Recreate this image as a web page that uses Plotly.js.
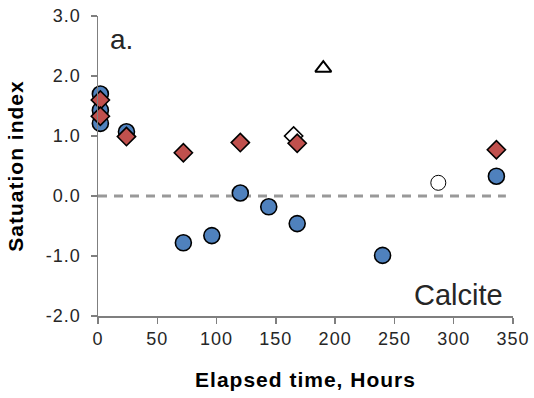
<!DOCTYPE html>
<html>
<head>
<meta charset="utf-8">
<script src="https://cdn.plot.ly/plotly-3.0.1.min.js"></script>
<style>
html,body{margin:0;padding:0;background:#fff;}
#chart{width:534px;height:398px;}
.xtitle,.ytitle{letter-spacing:1px;}
.xtick text,.ytick text{letter-spacing:1px;}
</style>
</head>
<body>
<div id="chart"></div>
<script>
// Blue filled circles
const circleX = [2, 2, -1.5, 2, 24, 72, 96, 120, 144, 168, 240, 336];
const circleY = [1.70, 1.43, 1.36, 1.21, 1.07, -0.78, -0.66, 0.05, -0.18, -0.46, -0.99, 0.33];
// Red filled diamonds
const diamondX = [2, 2, 24, 72, 120, 168, 336];
const diamondY = [1.60, 1.33, 0.99, 0.72, 0.89, 0.88, 0.77];
// Open markers
const openDiamondX = [165];
const openDiamondY = [1.00];
const openCircleX = [287];
const openCircleY = [0.22];
const openTriangleX = [190];
const openTriangleY = [2.13];
// Axis ticks
const xTicks = [0, 50, 100, 150, 200, 250, 300, 350];
const yTicks = [-2, -1, 0, 1, 2, 3];
const yTickLabels = ['-2.0', '-1.0', '0.0', '1.0', '2.0', '3.0'];

const font = 'Liberation Sans, Arial, sans-serif';
const outline = {color: '#000', width: 1.6};

const traces = [
  {x: openDiamondX, y: openDiamondY, mode: 'markers', type: 'scatter', cliponaxis: false,
   marker: {symbol: 'diamond', size: 14, color: '#fff', line: outline}},
  {x: openCircleX, y: openCircleY, mode: 'markers', type: 'scatter', cliponaxis: false,
   marker: {symbol: 'circle', size: 15, color: '#fff', line: {color: '#000', width: 1}}},
  {x: openTriangleX, y: openTriangleY, mode: 'markers', type: 'scatter', cliponaxis: false,
   marker: {symbol: 'triangle-up', size: 14, color: '#fff', line: {color: '#000', width: 2}}},
  {x: circleX, y: circleY, mode: 'markers', type: 'scatter', cliponaxis: false,
   marker: {symbol: 'circle', size: 16, color: '#4F81BD', line: outline}},
  {x: diamondX, y: diamondY, mode: 'markers', type: 'scatter', cliponaxis: false,
   marker: {symbol: 'diamond', size: 14, color: '#C0504D', line: outline}}
];

const layout = {
  width: 534, height: 398,
  margin: {l: 97.5, r: 21, t: 16, b: 82},
  showlegend: false,
  paper_bgcolor: '#fff', plot_bgcolor: '#fff',
  font: {family: font, color: '#262626', size: 18},
  xaxis: {
    range: [0, 350], tickvals: xTicks, ticktext: xTicks.map(String),
    showgrid: false, zeroline: false, showline: true, linecolor: '#7f7f7f', linewidth: 1.5,
    ticks: 'outside', ticklen: 6, tickwidth: 1.5, tickcolor: '#7f7f7f',
    tickfont: {family: font, size: 18, color: '#262626'},
    title: {text: '<b>Elapsed time, Hours</b>', font: {family: font, size: 21, color: '#000'}, standoff: 24}
  },
  yaxis: {
    range: [-2, 3], tickvals: yTicks, ticktext: yTickLabels,
    showgrid: false, zeroline: false, showline: true, linecolor: '#7f7f7f', linewidth: 1.5,
    ticks: 'outside', ticklen: 6, tickwidth: 1.5, tickcolor: '#7f7f7f', ticklabelstandoff: 6,
    tickfont: {family: font, size: 18, color: '#262626'},
    title: {text: '<b>Satuation index</b>', font: {family: font, size: 21, color: '#000'}, standoff: 16}
  },
  shapes: [
    {type: 'line', xref: 'x', yref: 'y', x0: 0, x1: 344, y0: 0, y1: 0,
     line: {color: '#999', width: 3, dash: '9px,7px'}, layer: 'below'}
  ],
  annotations: [
    {text: 'a.', xref: 'paper', yref: 'paper', x: 0.025, y: 0.98, xanchor: 'left', yanchor: 'top',
     showarrow: false, font: {family: font, size: 28, color: '#262626'}},
    {text: 'Calcite', xref: 'paper', yref: 'paper', x: 0.98, y: 0.01, xanchor: 'right', yanchor: 'bottom',
     showarrow: false, font: {family: font, size: 29, color: '#262626'}}
  ]
};

Plotly.newPlot('chart', traces, layout, {displayModeBar: false, staticPlot: true});
</script>
</body>
</html>
